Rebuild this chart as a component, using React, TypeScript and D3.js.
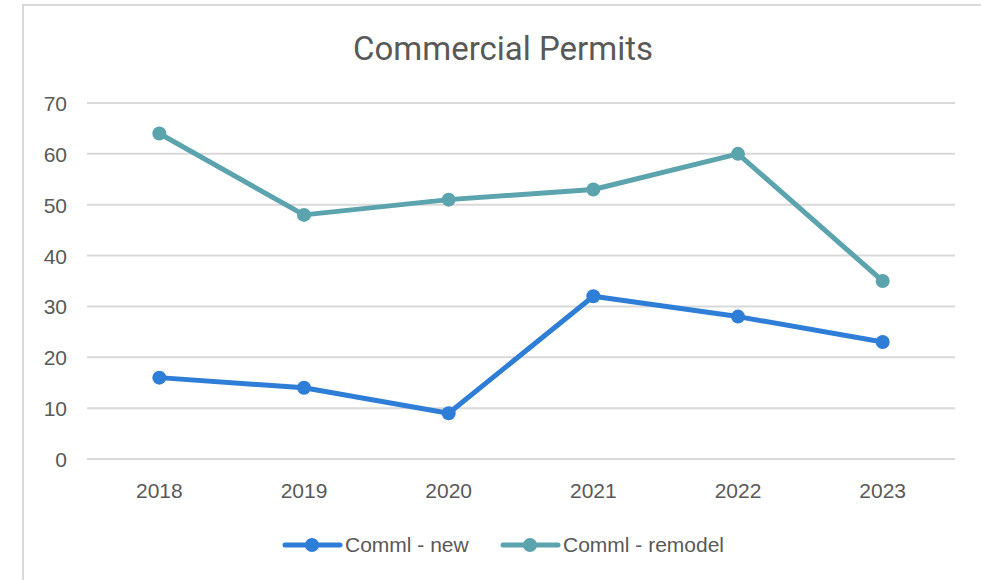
import React from "react";
import * as d3 from "d3";

const years = ["2018", "2019", "2020", "2021", "2022", "2023"];
const commlNew = [16, 14, 9, 32, 28, 23];
const commlRemodel = [64, 48, 51, 53, 60, 35];
const yTicks = [0, 10, 20, 30, 40, 50, 60, 70];
const seriesNames = ["Comml - new", "Comml - remodel"];
const seriesColors = ["#2E7DD6", "#5BA3AD"];

export default function App() {
  const W = 981, H = 580;
  const x = d3.scaleBand().domain(years).range([87, 955]);
  const y = d3.scaleLinear().domain([0, 70]).range([459, 103]);
  const cx = (d: string) => (x(d) as number) + x.bandwidth() / 2;
  const line = d3.line<number>().x((_, i) => cx(years[i])).y((v) => y(v));
  const series = [commlNew, commlRemodel];
  const font = "'Liberation Sans', Arial, sans-serif";
  const legendX = [285, 503];
  return (
    <svg width={W} height={H} style={{ position: "absolute", left: 0, top: 0, background: "#fff" }}>
      <rect x={23} y={5} width={W + 10} height={H + 10} fill="#fff" stroke="#d9d9d9" strokeWidth={2} />
      <text x={503} y={60} textAnchor="middle" fontFamily="Roboto, sans-serif" fontSize={33} fill="#595959">
        Commercial Permits
      </text>
      {yTicks.map((t) => (
        <g key={t}>
          <line x1={87} x2={955} y1={y(t)} y2={y(t)} stroke="#d9d9d9" strokeWidth={2} />
          <text x={67} y={y(t) + 8} textAnchor="end" fontFamily={font} fontSize={21} fill="#595959">
            {t}
          </text>
        </g>
      ))}
      {years.map((yr) => (
        <text key={yr} x={cx(yr)} y={498} textAnchor="middle" fontFamily={font} fontSize={21} fill="#595959">
          {yr}
        </text>
      ))}
      {series.map((s, si) => (
        <g key={si}>
          <path d={line(s) || ""} fill="none" stroke={seriesColors[si]} strokeWidth={5} strokeLinejoin="round" strokeLinecap="round" />
          {s.map((v, i) => (
            <circle key={i} cx={cx(years[i])} cy={y(v)} r={7} fill={seriesColors[si]} />
          ))}
        </g>
      ))}
      {seriesNames.map((n, si) => (
        <g key={n}>
          <line x1={legendX[si]} x2={legendX[si] + 55} y1={545} y2={545} stroke={seriesColors[si]} strokeWidth={5} strokeLinecap="round" />
          <circle cx={legendX[si] + 27} cy={545} r={7} fill={seriesColors[si]} />
          <text x={legendX[si] + 60} y={552} fontFamily={font} fontSize={21} fill="#595959">
            {n}
          </text>
        </g>
      ))}
    </svg>
  );
}
